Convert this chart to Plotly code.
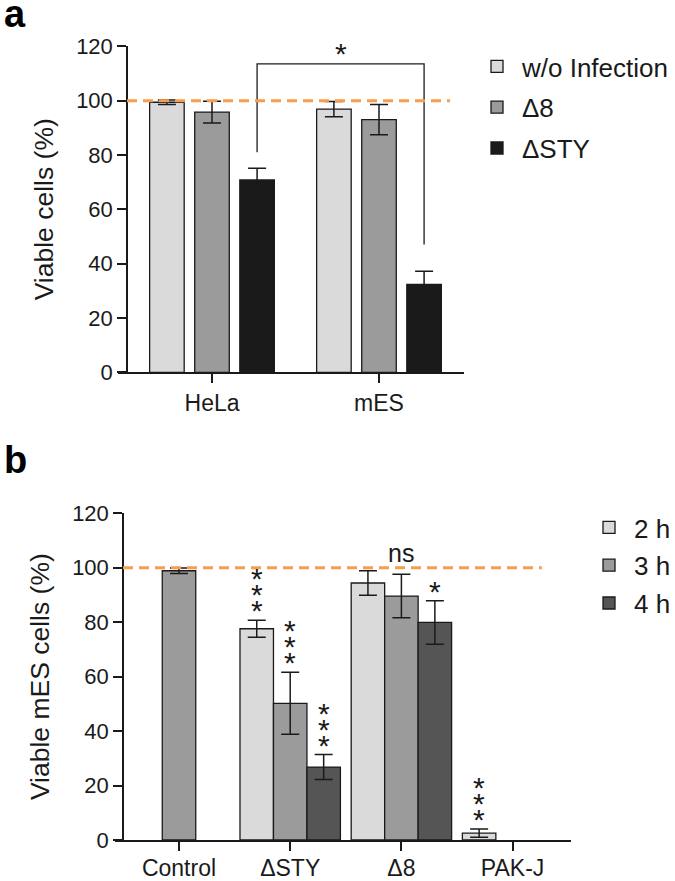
import plotly.graph_objects as go

# panel a: viability after infection
cells = ["HeLa", "mES"]
infection_series = ["w/o Infection", "Δ8", "ΔSTY"]
infection_mean = [[99.4, 96.9], [95.8, 93.0], [70.8, 32.4]]
infection_err = [[0.8, 2.8], [4.0, 5.6], [4.3, 4.8]]
infection_colors = ["#dadada", "#9b9b9b", "#1a1a1a"]

# panel b: mES viability over time
strains = ["Control", "ΔSTY", "Δ8", "PAK-J"]
time_series = ["2 h", "3 h", "4 h"]
time_mean = [[None, 77.6, 94.4, 2.5], [98.9, 50.2, 89.6, None], [None, 26.8, 79.9, None]]
time_err = [[None, 3.1, 4.5, 1.5], [1.0, 11.4, 8.0, None], [None, 4.6, 8.0, None]]
time_colors = ["#dadada", "#9b9b9b", "#555555"]
time_stars = [[None, "***", None, "***"], [None, "***", None, None], [None, "***", "*", None]]
ns_strain = "Δ8"

reference_level = 100
bracket_top = 113.5
bracket_feet = [81, 47]

W, H = 675, 881
FONT = "Liberation Sans, Arial, sans-serif"
INK = "#1a1a1a"
ORANGE = "#f2a04a"


def fx(p):
    return p / W


def fy(p):
    return 1 - p / H


fig = go.Figure()

# bar geometry (category units)
a_width, a_pitch = 0.207, 0.27
b_width = 0.301
a_offsets = [(i - 1) * a_pitch - a_width / 2 for i in range(3)]
b_offsets = [(i - 1) * b_width - b_width / 2 for i in range(3)]

for i, name in enumerate(infection_series):
    fig.add_bar(
        x=list(range(len(cells))), y=infection_mean[i], name=name,
        width=a_width, offset=a_offsets[i],
        marker=dict(color=infection_colors[i], line=dict(color=INK, width=1.3)),
        error_y=dict(type="data", array=infection_err[i], color=INK, thickness=1.5, width=9),
        xaxis="x", yaxis="y", legend="legend", legendgroup=name,
    )

for i, name in enumerate(time_series):
    fig.add_bar(
        x=list(range(len(strains))), y=time_mean[i], name=name,
        width=b_width, offset=b_offsets[i],
        marker=dict(color=time_colors[i], line=dict(color=INK, width=1.3)),
        error_y=dict(type="data", array=[e if e is not None else 0 for e in time_err[i]],
                     color=INK, thickness=1.5, width=9),
        xaxis="x2", yaxis="y2", legend="legend2", legendgroup=name,
    )

# significance bracket between the two ΔSTY bars of panel a
sty = infection_series.index("ΔSTY")
bx = [k + a_offsets[sty] + a_width / 2 for k in range(len(cells))]
fig.add_scatter(
    x=[bx[0], bx[0], bx[1], bx[1]], y=[bracket_feet[0], bracket_top, bracket_top, bracket_feet[1]],
    mode="lines", line=dict(color=INK, width=1.3), showlegend=False, hoverinfo="skip",
    xaxis="x", yaxis="y",
)
fig.add_annotation(x=(bx[0] + bx[1]) / 2, y=bracket_top, xref="x", yref="y", text="*",
                   showarrow=False, yanchor="bottom", yshift=-8, font=dict(size=30, color=INK))

# stars above bars of panel b
for i in range(len(time_series)):
    for k, mark in enumerate(time_stars[i]):
        if not mark:
            continue
        cx = k + b_offsets[i] + b_width / 2
        top = time_mean[i][k] + time_err[i][k]
        for s in range(len(mark)):
            fig.add_annotation(x=cx, y=top, xref="x2", yref="y2", text="*", showarrow=False,
                               yanchor="bottom", yshift=-9 + 16 * s,
                               font=dict(size=30, color=INK))

fig.add_annotation(x=strains.index(ns_strain), y=reference_level, xref="x2", yref="y2", text="ns",
                   showarrow=False, yanchor="bottom", yshift=-1, font=dict(size=25, color=INK))

# 100 % reference lines
dash_style = dict(color=ORANGE, width=3, dash="10px,6px")
fig.add_shape(type="line", xref="x domain", yref="y", x0=0.026, x1=0.96,
              y0=reference_level, y1=reference_level, line=dash_style)
fig.add_shape(type="line", xref="x2 domain", yref="y2", x0=0.0175, x1=0.936,
              y0=reference_level, y1=reference_level, line=dash_style)

# panel letters
fig.add_annotation(x=fx(2), y=fy(37), xref="paper", yref="paper", text="<b>a</b>", showarrow=False,
                   xanchor="left", yanchor="bottom", font=dict(size=38, color="#000"))
fig.add_annotation(x=fx(2), y=fy(483), xref="paper", yref="paper", text="<b>b</b>", showarrow=False,
                   xanchor="left", yanchor="bottom", font=dict(size=38, color="#000"))

axis_common = dict(
    showline=True, linecolor=INK, linewidth=1.5, ticks="outside", ticklen=9, tickwidth=1.5,
    tickcolor=INK, showgrid=False, zeroline=False, tickfont=dict(size=22, color=INK),
    automargin=False,
)

a_left, a_axis, a_right = 118, 127, 464
b_left, b_axis, b_right = 115, 123, 571
a_c0, a_step = 212, 167
b_c0, b_step = 179, 111.2

fig.update_layout(
    width=W, height=H, margin=dict(l=0, r=0, t=0, b=0, autoexpand=False),
    paper_bgcolor="white", plot_bgcolor="white",
    font=dict(family=FONT, color=INK),
    showlegend=True,
    xaxis=dict(
        axis_common, domain=[fx(a_left), fx(a_right)], anchor="y",
        range=[(a_left - a_c0) / a_step, (a_right - a_c0) / a_step],
        tickvals=list(range(len(cells))), ticktext=cells, tickfont=dict(size=23, color=INK),
        ticklabelstandoff=0,
    ),
    yaxis=dict(
        axis_common, domain=[fy(372.3), fy(46.3)], anchor="free", position=fx(a_axis),
        range=[0, 120], tickvals=list(range(0, 121, 20)),
        title=dict(text="Viable cells (%)", font=dict(size=26.5, color=INK), standoff=14),
    ),
    xaxis2=dict(
        axis_common, domain=[fx(b_left), fx(b_right)], anchor="y2",
        range=[(b_left - b_c0) / b_step, (b_right - b_c0) / b_step],
        tickvals=list(range(len(strains))), ticktext=strains, tickfont=dict(size=23, color=INK),
        ticklabelstandoff=-2,
    ),
    yaxis2=dict(
        axis_common, domain=[fy(840), fy(513.3)], anchor="free", position=fx(b_axis),
        range=[0, 120], tickvals=list(range(0, 121, 20)),
        title=dict(text="Viable mES cells (%)", font=dict(size=26.5, color=INK), standoff=14),
    ),
    legend=dict(x=fx(472), y=fy(43), xanchor="left", yanchor="top", font=dict(size=26, color=INK),
                itemwidth=40, tracegroupgap=4, bgcolor="rgba(0,0,0,0)"),
    legend2=dict(x=fx(584), y=fy(504), xanchor="left", yanchor="top", font=dict(size=26, color=INK),
                 itemwidth=40, tracegroupgap=1, bgcolor="rgba(0,0,0,0)"),
)

# the page's default body margin would push the figure 8px right and down
fig.write_html("out.html", config={"displayModeBar": False},
               post_script="document.body.style.margin = '0';")
